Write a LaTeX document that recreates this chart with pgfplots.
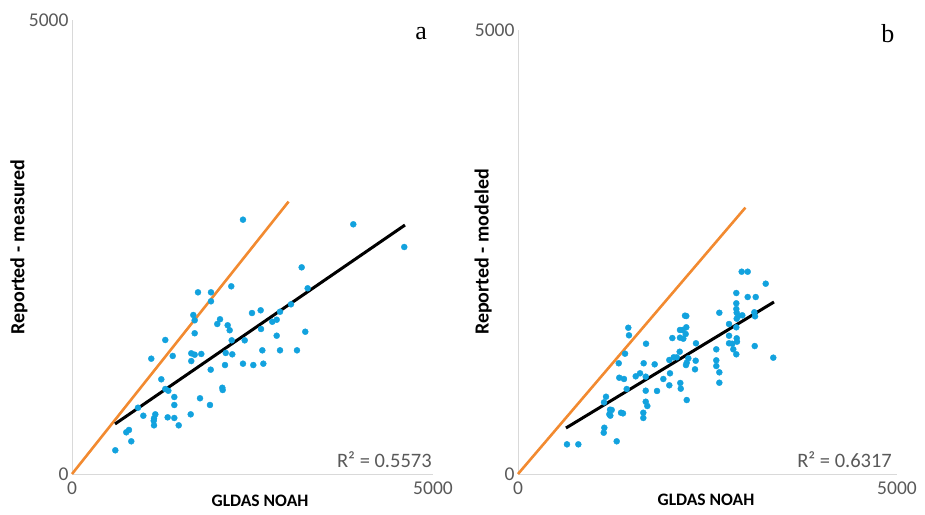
\documentclass[border=0pt]{standalone}
\usepackage{fontspec}
\setmainfont{Carlito}
\newfontfamily\seriffont{Liberation Serif}
\usepackage{pgfplots}
\usepackage{pgfplotstable}
\pgfplotsset{compat=1.18}
\definecolor{ptblue}{HTML}{12A2DE}
\definecolor{lorange}{HTML}{F28A30}
\definecolor{axgray}{HTML}{D9D9D9}
\definecolor{txtgray}{HTML}{595959}

\pgfplotstableread{
x y
2368 2801
1745 2001
1925 2001
1925 1902
2206 2067
1680 1751
1699 1693
1699 1550
2050 1704
2012 1652
2156 1638
2184 1583
2212 1472
2392 1472
2493 1773
2613 1803
2618 1597
2774 1677
2835 1699
2835 1523
1292 1476
1098 1270
1395 1300
1652 1329
1699 1314
1791 1322
1652 1244
1921 1149
2129 1333
2220 1318
2119 1200
2368 1215
2511 1200
2650 1215
2636 1362
2881 1362
1237 1043
1292 936
1334 917
1417 848
1417 760
2082 950
2087 925
1773 834
1911 760
914 730
988 642
1154 657
1136 613
1132 587
1136 536
1325 624
1417 617
1478 536
1644 657
752 459
789 485
821 360
600 261
3896 2750
4602 2500
3181 2276
3264 2045
3033 1869
2881 1787
3231 1567
3116 1362
}\dataA

\pgfplotstableread{
x y
1455 1647
1464 1562
1412 1355
1689 1467
1329 1247
1336 1084
1398 1070
1434 957
1161 870
1135 807
1214 724
1236 721
1205 672
1218 657
1359 690
1385 683
1139 521
1131 465
1302 368
646 334
796 334
1658 1247
1803 1235
1610 1134
1553 1100
1685 1096
1917 1070
1685 938
1834 935
1685 814
1706 766
1653 690
1653 631
2036 1531
1996 1284
2005 1134
1996 999
2137 1535
2137 1622
2173 1622
2203 1783
2220 1779
2220 1652
2212 1577
2181 1524
2054 1314
2094 1314
2133 1377
2247 1303
2226 1253
2216 1227
2344 1276
2335 1179
2348 1472
2141 1025
2147 961
2226 833
2951 2278
3030 2278
3268 2143
2880 2038
3030 1993
3136 1993
2880 1922
2880 1858
2885 1816
2656 1816
2906 1779
2959 1787
3127 1776
3118 1821
2885 1749
2784 1689
2880 1652
2784 1557
2885 1528
2889 1490
2784 1472
2827 1467
2840 1404
2880 1348
3123 1441
3368 1310
2616 1404
2616 1280
2616 1216
2656 1145
2656 1028
}\dataB

\pgfplotsset{panel/.style={
  scale only axis, anchor=south west,
  xmin=0, xmax=5000, ymin=0, ymax=5000,
  axis lines*=left,
  axis line style={draw=axgray, line width=1pt},
  xtick={0,5000}, ytick={0,5000},
  major tick length=0pt,
  tick label style={font=\fontsize{19.5}{21}\selectfont, text=txtgray},
  xticklabel style={yshift=-4pt},
  /pgf/number format/assume math mode=true,
  /pgf/number format/set thousands separator={},
  xlabel style={anchor=center, font=\bfseries\fontsize{17.5}{20}\selectfont},
  ylabel style={anchor=center, font=\bfseries\fontsize{20}{22}\selectfont},
  clip=false,
}}

\begin{document}
\begin{tikzpicture}[x=1pt,y=1pt]
\useasboundingbox (0,0) rectangle (925,514);

\begin{axis}[panel, at={(72pt,40pt)}, width=361pt, height=454pt,
  xlabel={GLDAS NOAH}, ylabel={Reported - measured},
  xlabel style={at={(axis description cs:0.521,-0.058)}},
  ylabel style={at={(axis description cs:-0.147,0.5)}}]
\addplot[only marks, mark=*, mark size=3pt, ptblue, mark options={draw=ptblue, fill=ptblue}] table[x=x,y=y] {\dataA};
\addplot[lorange, line width=2.6pt] coordinates {(0,0) (3000,3000)};
\addplot[black, line width=3pt] coordinates {(596,551) (4612,2742)};
\node[anchor=east, inner sep=0pt, text=txtgray, font=\fontsize{20.5}{22}\selectfont] at (rel axis cs:0.997,0.031) {R² = 0.5573};
\node[inner sep=0pt, font=\seriffont\fontsize{26}{28}\selectfont] at (rel axis cs:0.967,0.971) {a};
\end{axis}

\begin{axis}[panel, at={(518pt,40pt)}, width=379pt, height=444pt,
  xlabel={GLDAS NOAH}, ylabel={Reported - modeled},
  xlabel style={at={(axis description cs:0.496,-0.059)}},
  ylabel style={at={(axis description cs:-0.092,0.5)}}]
\addplot[only marks, mark=*, mark size=3pt, ptblue, mark options={draw=ptblue, fill=ptblue}] table[x=x,y=y] {\dataB};
\addplot[lorange, line width=2.6pt] coordinates {(0,0) (3000,3000)};
\addplot[black, line width=3pt] coordinates {(633,518) (3377,1937)};
\node[anchor=east, inner sep=0pt, text=txtgray, font=\fontsize{20.5}{22}\selectfont] at (rel axis cs:0.987,0.0315) {R² = 0.6317};
\node[inner sep=0pt, font=\seriffont\fontsize{26}{28}\selectfont] at (rel axis cs:0.976,0.993) {b};
\end{axis}
\end{tikzpicture}
\end{document}
